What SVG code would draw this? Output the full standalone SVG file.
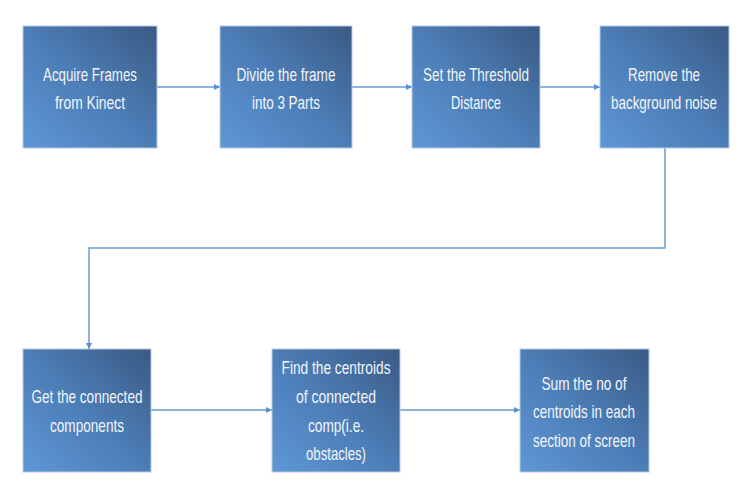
<svg xmlns="http://www.w3.org/2000/svg" width="744" height="494" viewBox="0 0 744 494">
  <defs>
    <linearGradient id="g" x1="0" y1="1" x2="1" y2="0">
      <stop offset="0" stop-color="#5e97d6"/>
      <stop offset="0.5" stop-color="#4c7db6"/>
      <stop offset="1" stop-color="#3a5a84"/>
    </linearGradient>
    <marker id="arr" viewBox="0 0 10 10" refX="10" refY="5" markerWidth="6" markerHeight="6" markerUnits="userSpaceOnUse" orient="auto">
      <path d="M0,0 L10,5 L0,10 z" fill="#5b8fcf"/>
    </marker>
    <style>
      .box { fill: url(#g); stroke: #b7cbe5; stroke-width: 1; }
      .t { font-family: "Liberation Sans", Arial, sans-serif; font-size: 19px; fill: #f2f4f8; text-anchor: middle; }
      .c { fill: none; stroke: #6a9ad4; stroke-width: 1.5; }
    </style>
  </defs>
  <rect width="744" height="494" fill="#ffffff"/>

  <g id="connectors">
    <line class="c" x1="157" y1="87" x2="220" y2="87" marker-end="url(#arr)"/>
    <line class="c" x1="352" y1="87" x2="412" y2="87" marker-end="url(#arr)"/>
    <line class="c" x1="540" y1="87" x2="600" y2="87" marker-end="url(#arr)"/>
    <polyline class="c" points="665,148 665,248 89,248 89,349" marker-end="url(#arr)"/>
    <line class="c" x1="151" y1="410" x2="272" y2="410" marker-end="url(#arr)"/>
    <line class="c" x1="400" y1="410" x2="520" y2="410" marker-end="url(#arr)"/>
  </g>

  <g id="n1">
    <rect class="box" x="23" y="26" width="134" height="122"/>
    <text class="t" x="90" y="81" textLength="94" lengthAdjust="spacingAndGlyphs">Acquire Frames</text>
    <text class="t" x="90" y="109" textLength="70" lengthAdjust="spacingAndGlyphs">from Kinect</text>
  </g>
  <g id="n2">
    <rect class="box" x="220" y="26" width="132" height="122"/>
    <text class="t" x="286" y="81" textLength="99" lengthAdjust="spacingAndGlyphs">Divide the frame</text>
    <text class="t" x="286" y="109" textLength="68" lengthAdjust="spacingAndGlyphs">into 3 Parts</text>
  </g>
  <g id="n3">
    <rect class="box" x="412" y="26" width="128" height="122"/>
    <text class="t" x="476" y="81" textLength="106" lengthAdjust="spacingAndGlyphs">Set the Threshold</text>
    <text class="t" x="476" y="109" textLength="50" lengthAdjust="spacingAndGlyphs">Distance</text>
  </g>
  <g id="n4">
    <rect class="box" x="600" y="26" width="129" height="122"/>
    <text class="t" x="664" y="81" textLength="72" lengthAdjust="spacingAndGlyphs">Remove the</text>
    <text class="t" x="664" y="109" textLength="106" lengthAdjust="spacingAndGlyphs">background noise</text>
  </g>
  <g id="n5">
    <rect class="box" x="23" y="349" width="128" height="123"/>
    <text class="t" x="87" y="403" textLength="111" lengthAdjust="spacingAndGlyphs">Get the connected</text>
    <text class="t" x="87" y="432" textLength="74" lengthAdjust="spacingAndGlyphs">components</text>
  </g>
  <g id="n6">
    <rect class="box" x="272" y="349" width="128" height="123"/>
    <text class="t" x="336" y="374" textLength="109" lengthAdjust="spacingAndGlyphs">Find the centroids</text>
    <text class="t" x="336" y="403" textLength="80" lengthAdjust="spacingAndGlyphs">of connected</text>
    <text class="t" x="336" y="432" textLength="56" lengthAdjust="spacingAndGlyphs">comp(i.e.</text>
    <text class="t" x="336" y="460" textLength="60" lengthAdjust="spacingAndGlyphs">obstacles)</text>
  </g>
  <g id="n7">
    <rect class="box" x="520" y="349" width="129" height="123"/>
    <text class="t" x="584" y="390" textLength="85" lengthAdjust="spacingAndGlyphs">Sum the no of</text>
    <text class="t" x="584" y="418" textLength="102" lengthAdjust="spacingAndGlyphs">centroids in each</text>
    <text class="t" x="584" y="447" textLength="102" lengthAdjust="spacingAndGlyphs">section of screen</text>
  </g>
</svg>
